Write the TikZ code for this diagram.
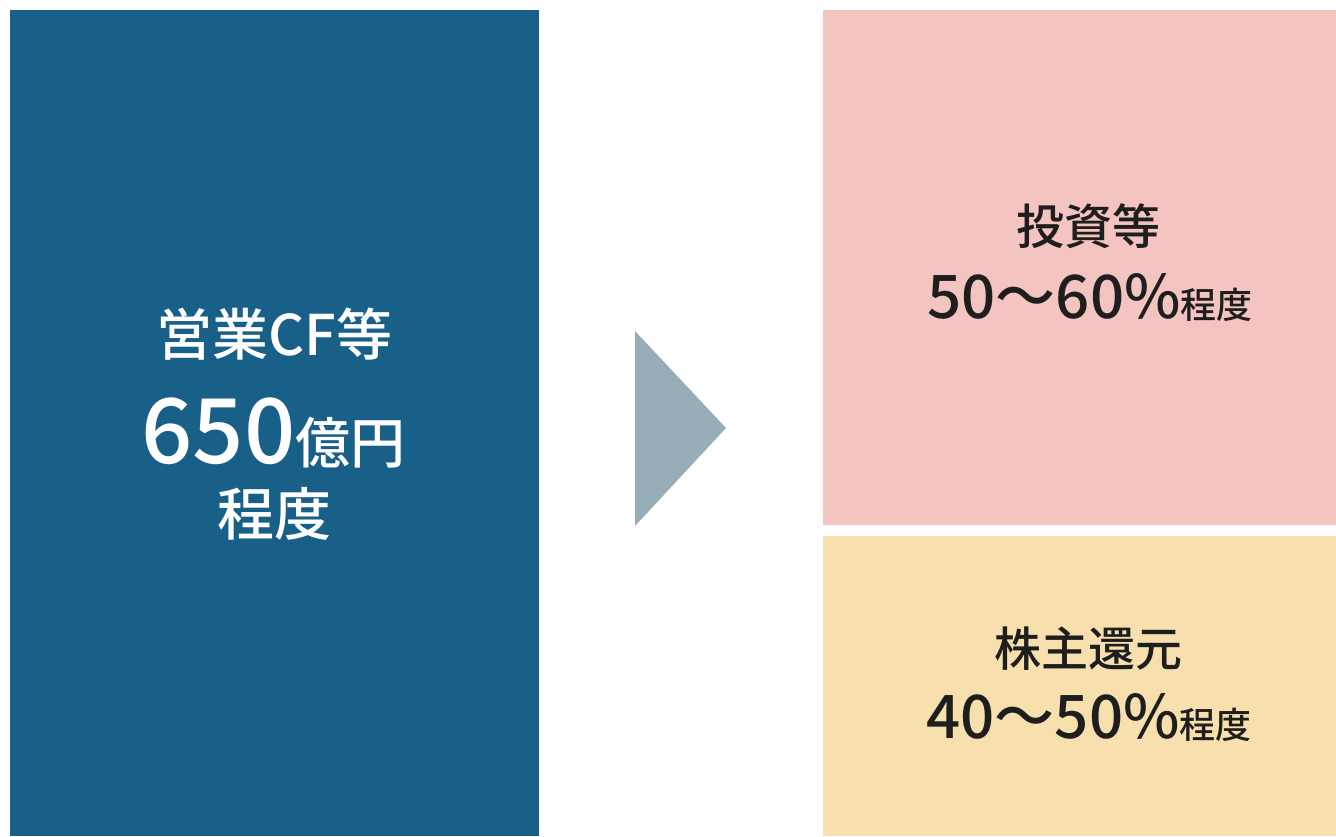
\documentclass[tikz,border=0pt]{standalone}
\usepackage{fontspec}
\setmainfont{Noto Sans CJK JP}[BoldFont={Noto Sans CJK JP Medium}]
\definecolor{cfblue}{RGB}{24,96,135}
\definecolor{arrowgray}{RGB}{151,174,184}
\definecolor{invpink}{RGB}{244,197,192}
\definecolor{retyellow}{RGB}{247,224,174}
\definecolor{darktext}{RGB}{30,30,30}
\tikzset{
  whitetxt/.style={text=white, font=\bfseries, inner sep=0pt, anchor=base},
  darktxt/.style={text=darktext, font=\bfseries, inner sep=0pt, anchor=base},
}
\newcommand{\fs}[1]{\fontsize{#1}{#1}\selectfont}
\begin{document}
\begin{tikzpicture}[x=1pt,y=-1pt]
\useasboundingbox (0,0) rectangle (1336,836);
\fill[white] (0,0) rectangle (1336,836);
% panels
\fill[cfblue] (10,10) rectangle (539,836);
\fill[invpink] (823,10) rectangle (1336,525);
\fill[retyellow] (823,536) rectangle (1336,836);
% arrow triangle
\coordinate (T1) at (635,331);
\coordinate (T2) at (726,428);
\coordinate (T3) at (635,526);
\fill[arrowgray] (T1) -- (T2) -- (T3) -- cycle;
% left texts
\node[whitetxt] (l1) at (274.5,355) {\fs{56}営業CF等};
\node[whitetxt] (l2) at (273.5,463) {\fs{90}650\fs{55}億円};
\node[whitetxt] (l3) at (274,535) {\fs{57}程度};
% right top texts
\node[darktxt] (p1) at (1088,244) {\fs{48}投資等};
\node[darktxt] (p2) at (1090,318) {\fs{60}50〜60\%\fs{36}程度};
% right bottom texts
\node[darktxt] (y1) at (1088.5,666) {\fs{47}株主還元};
\node[darktxt] (y2) at (1089,738) {\fs{60}40〜50\%\fs{36}程度};
\end{tikzpicture}
\end{document}
